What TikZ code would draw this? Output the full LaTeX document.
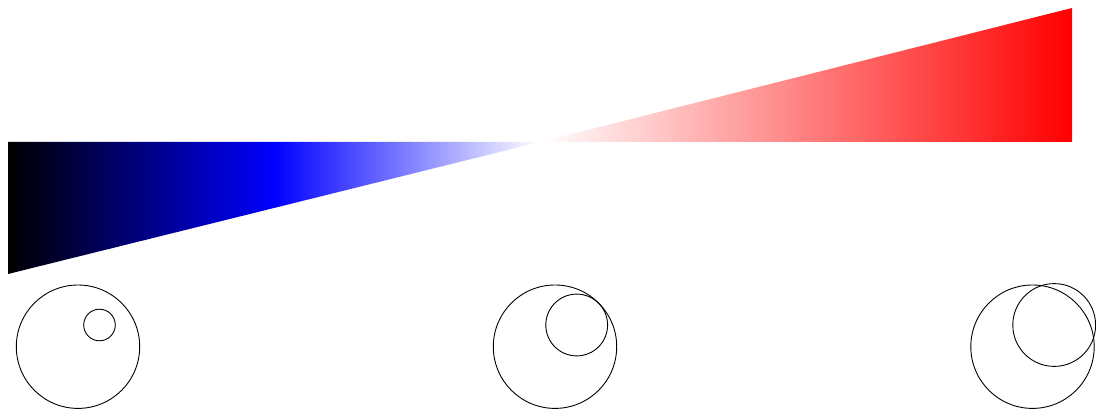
\documentclass[tikz,border=0pt]{standalone}
\usepackage{tikz}
\usetikzlibrary{positioning, calc}

\begin{document}
\begin{tikzpicture}[
    x=1pt, y=1pt,
    ring/.style={draw=black, line width=0.9pt},
]
\useasboundingbox (0,0) rectangle (1096,410);

% ── Wedge bar ────────────────────────────
\coordinate (barL) at (8,268);
\coordinate (barM) at (274,268);
\coordinate (barC) at (540,268);
\coordinate (barR) at (1072,268);

\shade[left color=black, right color=blue]
    (barL) -- (barM) -- (274,202) -- (8,136) -- cycle;
\shade[left color=blue, right color=white]
    (barM) -- (barC) -- (274,202) -- cycle;
\shade[left color=white, right color=red]
    (barC) -- (barR) -- (1072,402) -- cycle;

% ── Circles ────────────────────────────
\coordinate (bigA) at (78,63.3);
\coordinate (bigB) at (555,63.3);
\coordinate (bigC) at (1032.5,63.3);

\draw[ring] (bigA) circle[radius=61.7];
\draw[ring] ($(bigA)+(21.5,21.7)$) circle[radius=15.8];

\draw[ring] (bigB) circle[radius=61.7];
\draw[ring] ($(bigB)+(21.7,21.7)$) circle[radius=30.9];

\draw[ring] (bigC) circle[radius=61.7];
\draw[ring] ($(bigC)+(21.7,21.7)$) circle[radius=41.4];

\end{tikzpicture}
\end{document}
